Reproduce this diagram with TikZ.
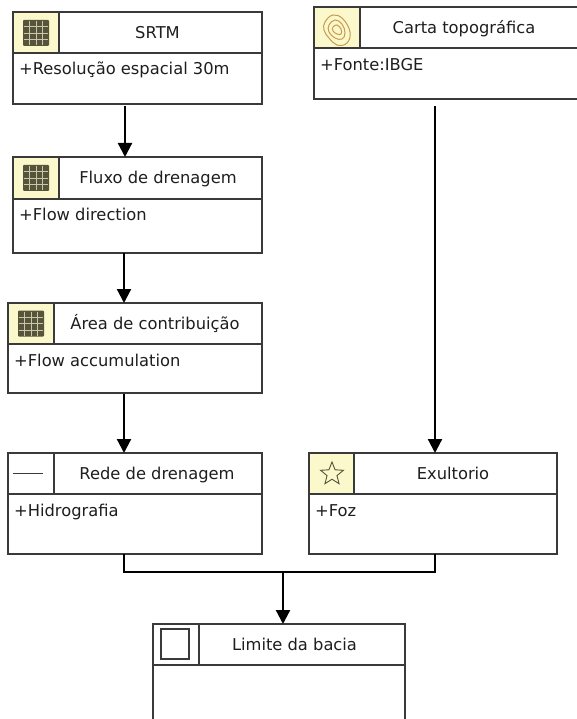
\documentclass[tikz,border=0pt]{standalone}
\usepackage{fontspec}
\setmainfont{DejaVu Sans}
\usetikzlibrary{arrows.meta,shapes.geometric,calc}
\definecolor{boxline}{HTML}{3A3A3A}
\definecolor{iconbg}{HTML}{FBF8CC}
\definecolor{gridc}{HTML}{56543A}
\definecolor{gridl}{HTML}{C9C7A6}
\definecolor{topo}{HTML}{C99A4E}
\definecolor{txt}{HTML}{1E1E1E}
\tikzset{
 classbox/.style={fill=white, inner sep=0pt, outer sep=0pt, anchor=north west},
 sep/.style={draw=boxline, line width=1.3pt},
 title/.style={font=\fontsize{16.3}{19}\selectfont, text=txt, inner sep=0pt, anchor=base},
 attr/.style={font=\fontsize{16.3}{19}\selectfont, text=txt, inner sep=0pt, anchor=base west},
 arr/.style={draw=black, line width=2.2pt, -{Triangle[length=14pt,width=14pt]}},
 conn/.style={draw=black, line width=2.2pt},
 gridline/.style={draw=gridl, line width=0.8pt},
}
% name, x, y, w, h, header h, divider w, cell fill
\newcommand\umlbox[8]{%
 \node[classbox, minimum width=#4pt, minimum height=#5pt] (#1) at (#2,#3) {};
 \fill[#8] (#1.north west) rectangle ($(#1.north west)+(#7,#6)$);
 \draw[sep] ($(#1.north west)+(#7,0)$) -- ++(0,#6);
 \draw[sep] ($(#1.north west)+(0,#6)$) -- ($(#1.north east)+(0,#6)$);
 \draw[sep] (#1.north west) rectangle (#1.south east);
}
\newcommand\gridicon[2]{%
 \begin{scope}[shift={(#1,#2)}]
  \fill[gridc, rounded corners=1pt] (-13,-13) rectangle (13,13);
  \foreach \t in {-6.5,0,6.5} {
   \draw[gridline] (\t,-12) -- (\t,12);
   \draw[gridline] (-12,\t) -- (12,\t);
  }
 \end{scope}
}
\begin{document}
\begin{tikzpicture}[x=1pt,y=-1pt]
\useasboundingbox (0,0) rectangle (577,719);
\fill[white] (0,0) rectangle (577,719);
\clip (0,0) rectangle (577,719);

% boxes
\umlbox{srtm}{13}{12}{249}{92}{41}{46}{iconbg}
\umlbox{fluxo}{13}{157}{249}{96}{42}{46}{iconbg}
\umlbox{area}{8}{303}{254}{90}{41}{46}{iconbg}
\umlbox{rede}{8}{453}{254}{101}{41}{46}{white}
\umlbox{exu}{309}{453}{248}{101}{41}{45}{iconbg}
\umlbox{lim}{153}{624}{252}{130}{41}{46}{white}
\umlbox{carta}{314}{7}{280}{92}{41}{46}{iconbg}

% icons
\gridicon{36}{33}
\gridicon{36}{178}
\gridicon{31}{323.5}
\draw[boxline, line width=1pt] (13,473) -- (43,473);
\node[star, star points=5, star point ratio=2.3, draw=gridc, line width=0.9pt,
      minimum size=24pt, inner sep=0pt] (exustar) at (332,474) {};
\draw[boxline, line width=1.3pt] (161,629) rectangle (189,659);
\begin{scope}[shift={(337,30)}, topo, line width=1pt]
 \draw plot[smooth cycle, tension=0.7] coordinates {(-12,-8) (-4,-15) (6,-11) (13,2) (10,13) (0,15) (-8,8) (-13,0)};
 \draw plot[smooth cycle, tension=0.7] coordinates {(-8,-5) (-2,-10) (5,-6) (8,3) (5,9) (-2,8) (-8,2)};
 \draw plot[smooth cycle, tension=0.7] coordinates {(-4,-3) (0,-5) (4,-1) (4,4) (0,4) (-4,1)};
\end{scope}

% titles
\node[title] (srtmT) at (157.5,38.5) {SRTM};
\node[title] (fluxoT) at (158,183.5) {Fluxo de drenagem};
\node[title] (areaT) at (155,329.5) {Área de contribuição};
\node[title] (redeT) at (157,479.5) {Rede de drenagem};
\node[title] (exuT) at (453,479.5) {Exultorio};
\node[title] (limT) at (294.5,650.5) {Limite da bacia};
\node[title] (cartaT) at (464,33.5) {Carta topográfica};

% attributes
\node[attr] (srtmA) at (19,75) {+Resolução espacial 30m};
\node[attr] (fluxoA) at (19,221) {+Flow direction};
\node[attr] (areaA) at (14,366) {+Flow accumulation};
\node[attr] (redeA) at (14,516) {+Hidrografia};
\node[attr] (exuA) at (315,516) {+Foz};
\node[attr] (cartaA) at (320,71) {+Fonte:IBGE};

% connectors
\draw[arr, shorten <=2pt] ([xshift=-12.5pt]srtm.south) -- ([xshift=-12.5pt]srtm.south |- fluxo.north);
\draw[arr] ([xshift=-13.5pt]fluxo.south) -- ([xshift=-13.5pt]fluxo.south |- area.north);
\draw[arr, shorten <=1pt] ([xshift=-11pt]area.south) -- ([xshift=-11pt]area.south |- rede.north);
\draw[arr, shorten <=7pt] ([xshift=2pt]exu.north |- carta.south) -- ([xshift=2pt]exu.north);
\coordinate (merge) at ($([xshift=4pt]lim.north)!0!([xshift=4pt]lim.north)$);
\draw[conn] ([xshift=-11pt]rede.south) -- ++(0,18) coordinate (mleft) -| ([xshift=2pt]exu.south);
\draw[arr] ([xshift=4pt]lim.north |- mleft) -- ([xshift=4pt]lim.north);
\end{tikzpicture}
\end{document}
